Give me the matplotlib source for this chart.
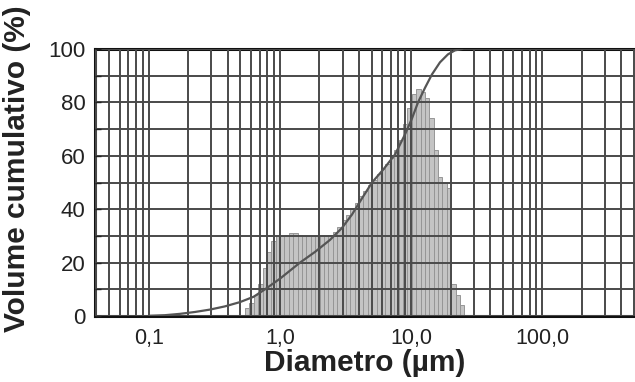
import numpy as np
import matplotlib.pyplot as plt
from matplotlib.ticker import FixedLocator, NullFormatter, LogLocator

plt.rcParams['font.family'] = ['Liberation Sans', 'DejaVu Sans']

# histogram bins (left edges, um) and heights (%)
bin_edges = [0.542, 0.585, 0.632, 0.683, 0.737, 0.796, 0.860, 0.929, 1.003, 1.083,
             1.170, 1.264, 1.365, 1.474, 1.592, 1.719, 1.857, 2.005, 2.166, 2.339,
             2.526, 2.728, 2.946, 3.182, 3.437, 3.712, 4.009, 4.329, 4.676, 5.050,
             5.454, 5.890, 6.361, 6.870, 7.420, 8.013, 8.654, 9.347, 10.09, 10.90,
             11.78, 12.72, 13.73, 14.83, 16.02, 17.30, 18.69, 20.18, 21.80, 23.54,
             25.42]
bin_heights = [3, 5, 8, 12, 18, 24, 28, 30, 30, 30.5,
               31, 31, 30.5, 30, 30, 30, 30, 30.5, 30, 30.5,
               31.5, 33.5, 36, 38, 40, 42.5, 45, 47, 49, 51,
               53, 55, 57, 59, 62, 66, 72, 78, 83, 85,
               84, 81.5, 74, 62, 52, 50, 48, 12, 8, 4]

# cumulative curve
cum_d = [0.103, 0.133, 0.173, 0.225, 0.293, 0.381, 0.496, 0.630, 0.770, 1.002,
         1.422, 1.850, 2.406, 2.973, 3.54, 4.21, 5.03, 6.16, 7.53, 8.97,
         10.14, 11.27, 12.75, 14.40, 16.56, 19.05, 21.57, 24.40]
cum_v = [0.1, 0.3, 0.8, 1.5, 2.4, 3.6, 5.2, 7.2, 10, 14,
         20, 24, 28.5, 33, 38, 44, 50, 55, 60.5, 68,
         74, 80, 85.5, 90.5, 95, 98, 99.5, 100]

xtick_vals = [0.1, 1.0, 10.0, 100.0]
xtick_labels = ['0,1', '1,0', '10,0', '100,0']
ytick_vals = [0, 20, 40, 60, 80, 100]

fig = plt.figure(figsize=(6.35, 3.82), dpi=100)
ax = fig.add_axes([0.1496, 0.1728, 0.8504, 0.6989])

edges = np.array(bin_edges)
ax.bar(edges[:-1], bin_heights, width=np.diff(edges), align='edge',
       color='#c4c4c4', edgecolor='#969696', linewidth=0.7, zorder=1)

ax.set_xscale('log')
ax.set_xlim(0.039, 507)
ax.set_ylim(0, 100)

# grid
ax.xaxis.set_major_locator(FixedLocator(xtick_vals))
ax.xaxis.set_minor_locator(LogLocator(base=10, subs=np.arange(1, 10)))
ax.xaxis.set_minor_formatter(NullFormatter())
ax.set_xticklabels(xtick_labels)
ax.yaxis.set_major_locator(FixedLocator(ytick_vals))
ax.yaxis.set_minor_locator(FixedLocator(np.arange(0, 101, 10)))
ax.grid(True, which='both', axis='both', color='#4a4a4a', linewidth=1.4, zorder=2)
ax.set_axisbelow(False)

ax.plot(cum_d, cum_v, color='#555555', linewidth=1.6, zorder=3)

ax.tick_params(axis='x', which='both', length=0, labelsize=15.5, pad=9, colors='#222222')
ax.tick_params(axis='y', which='both', direction='in', length=4, width=1,
               labelsize=16, pad=7, colors='#222222')

for s in ['left', 'bottom', 'top']:
    ax.spines[s].set_linewidth(2.2)
    ax.spines[s].set_color('#111111')
ax.spines['right'].set_visible(False)

ax.set_xlabel('Diametro (µm)', fontsize=21.5, fontweight='bold', color='#222222', labelpad=0)
ax.set_ylabel('Volume cumulativo (%)', fontsize=21.5, fontweight='bold', color='#222222')
ax.yaxis.set_label_coords(-0.118, 0.55)

fig.savefig('out.png', dpi=100)
